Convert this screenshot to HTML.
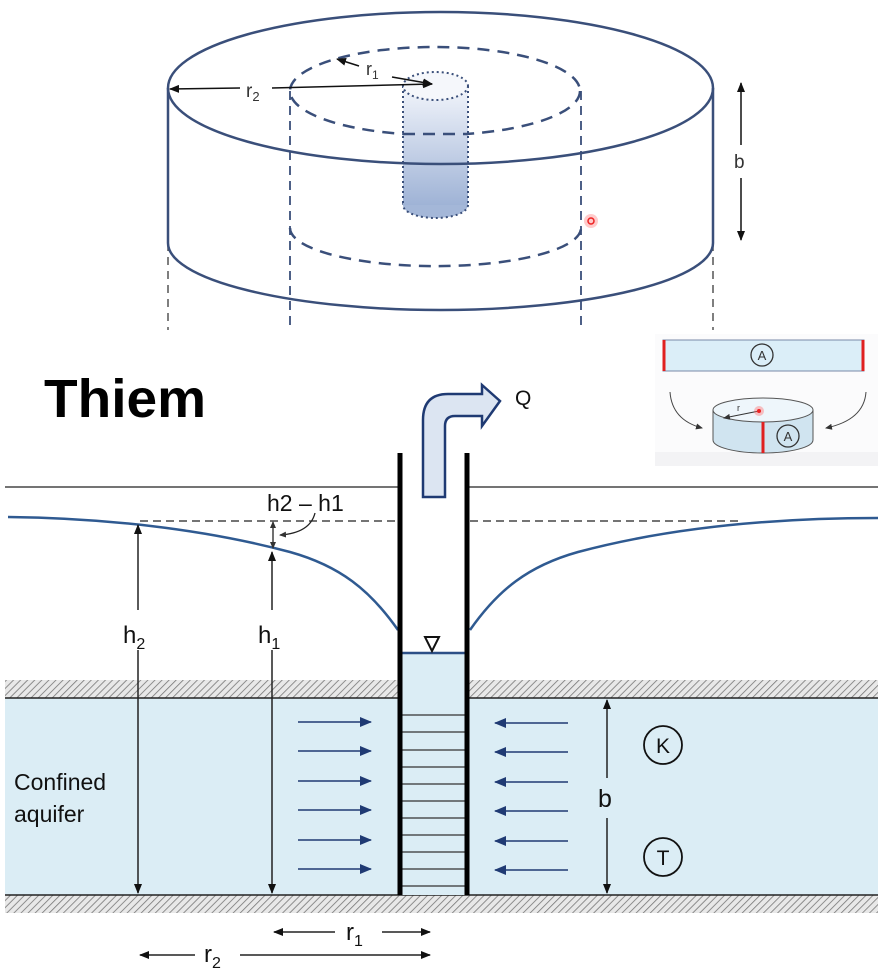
<!DOCTYPE html>
<html><head><meta charset="utf-8"><style>
html,body{margin:0;padding:0;background:#fff;}
svg{display:block;font-family:"Liberation Sans","DejaVu Sans",sans-serif;}
</style></head><body>
<svg width="878" height="970" viewBox="0 0 878 970" xmlns="http://www.w3.org/2000/svg">
<defs>
<pattern id="hatch" width="5" height="5" patternUnits="userSpaceOnUse" patternTransform="rotate(45)">
<rect width="5" height="5" fill="#e8e8e8"/><line x1="0" y1="0" x2="0" y2="5" stroke="#777" stroke-width="1.6"/>
</pattern>
<linearGradient id="wg" x1="0" y1="0" x2="0" y2="1">
<stop offset="0" stop-color="#f2f5fb"/><stop offset="1" stop-color="#9fb3d6"/>
</linearGradient>
<marker id="ah" markerWidth="10" markerHeight="8" refX="9" refY="4" orient="auto" markerUnits="userSpaceOnUse">
<path d="M0,0 L10,4 L0,8 z" fill="#111"/></marker>
<marker id="ahb" markerWidth="12" markerHeight="10" refX="11" refY="5" orient="auto" markerUnits="userSpaceOnUse">
<path d="M0,0 L12,5 L0,10 z" fill="#1f3a73"/></marker>
<marker id="ahs" markerWidth="7" markerHeight="6" refX="6" refY="3" orient="auto" markerUnits="userSpaceOnUse">
<path d="M0,0 L7,3 L0,6 z" fill="#333"/></marker>
</defs>

<!-- TOP CYLINDER -->
<g stroke="#3a4f7a" fill="none">
<line x1="168" y1="243" x2="168" y2="330" stroke="#555" stroke-dasharray="8,6" stroke-width="1.5"/>
<line x1="713" y1="243" x2="713" y2="330" stroke="#555" stroke-dasharray="8,6" stroke-width="1.5"/>
<line x1="290" y1="91" x2="290" y2="330" stroke="#3a4f7a" stroke-dasharray="9,6" stroke-width="1.8"/>
<line x1="581" y1="91" x2="581" y2="330" stroke="#3a4f7a" stroke-dasharray="9,6" stroke-width="1.8"/>
<ellipse cx="435" cy="91" rx="145" ry="44" stroke-dasharray="12,8" stroke-width="2.5"/>
<path d="M290,228 A145,38 0 0 0 581,228" stroke-dasharray="12,8" stroke-width="2.5"/>
<ellipse cx="435.5" cy="205" rx="32.5" ry="13" fill="#a4b7d8" stroke="#3a4f7a" stroke-dasharray="2,3" stroke-width="2"/>
<rect x="403" y="86" width="65" height="119" fill="url(#wg)" stroke="none"/>
<line x1="403" y1="86" x2="403" y2="205" stroke-dasharray="2,3" stroke-width="2"/>
<line x1="468" y1="86" x2="468" y2="205" stroke-dasharray="2,3" stroke-width="2"/>
<ellipse cx="435.5" cy="86" rx="32.5" ry="14" fill="#f5f7fb" stroke-dasharray="2,3" stroke-width="2"/>
<line x1="403" y1="134" x2="468" y2="134" stroke-dasharray="12,8" stroke-width="2.5"/>
<ellipse cx="440.5" cy="88" rx="272.5" ry="76" stroke-width="2.5"/>
<line x1="168" y1="88" x2="168" y2="243" stroke-width="2.5"/>
<line x1="713" y1="88" x2="713" y2="243" stroke-width="2.5"/>
<path d="M168,243 A272.5,67 0 0 0 713,243" stroke-width="2.5"/>
</g>
<line x1="240" y1="88" x2="170" y2="89" stroke="#111" stroke-width="1.5" marker-end="url(#ah)"/>
<line x1="272" y1="88" x2="432" y2="84" stroke="#111" stroke-width="1.5" marker-end="url(#ah)"/>
<text x="246" y="97" font-size="19" fill="#333">r<tspan font-size="13" dy="4">2</tspan></text>
<line x1="359" y1="66" x2="337" y2="59" stroke="#111" stroke-width="1.5" marker-end="url(#ah)"/>
<line x1="392" y1="77" x2="432" y2="84" stroke="#111" stroke-width="1.5" marker-end="url(#ah)"/>
<text x="366" y="75" font-size="18" fill="#333">r<tspan font-size="12" dy="4">1</tspan></text>
<line x1="741" y1="145" x2="741" y2="83" stroke="#111" stroke-width="1.5" marker-end="url(#ah)"/>
<line x1="741" y1="178" x2="741" y2="240" stroke="#111" stroke-width="1.5" marker-end="url(#ah)"/>
<text x="734" y="168" font-size="19" fill="#333">b</text>
<circle cx="591" cy="221" r="7" fill="#ff6b6b" opacity="0.35"/>
<circle cx="591" cy="221" r="3" fill="none" stroke="#e22" stroke-width="1.5"/>

<!-- INSET -->
<rect x="655" y="334" width="223" height="132" fill="#fbfbfc"/>
<rect x="655" y="452" width="223" height="14" fill="#f3f3f5"/>
<rect x="663" y="340" width="201" height="31" fill="#dbeef8" stroke="#7a8aa8" stroke-width="1"/>
<line x1="664" y1="340" x2="664" y2="371" stroke="#e02020" stroke-width="3"/>
<line x1="863" y1="340" x2="863" y2="371" stroke="#e02020" stroke-width="3"/>
<circle cx="762" cy="355" r="11" fill="none" stroke="#333" stroke-width="1.3"/>
<text x="762" y="360" font-size="13" text-anchor="middle" fill="#333">A</text>
<path d="M713,410 L713,440 A50,13 0 0 0 813,440 L813,410 z" fill="#d0e4f0" stroke="#555" stroke-width="1"/>
<ellipse cx="763" cy="410" rx="50" ry="12" fill="#eef6fb" stroke="#555" stroke-width="1"/>
<line x1="763" y1="422" x2="763" y2="453" stroke="#e02020" stroke-width="3"/>
<circle cx="788" cy="436" r="11" fill="none" stroke="#333" stroke-width="1.3"/>
<text x="788" y="441" font-size="13" text-anchor="middle" fill="#333">A</text>
<line x1="759" y1="411" x2="724" y2="418" stroke="#333" stroke-width="1" marker-end="url(#ahs)"/>
<text x="737" y="411" font-size="9" fill="#333">r</text>
<circle cx="759" cy="411" r="5" fill="#ff6b6b" opacity="0.4"/>
<circle cx="759" cy="411" r="2" fill="#e22"/>
<path d="M670,392 Q672,420 702,428" fill="none" stroke="#444" stroke-width="1" marker-end="url(#ahs)"/>
<path d="M866,392 Q864,420 826,428" fill="none" stroke="#444" stroke-width="1" marker-end="url(#ahs)"/>

<!-- THIEM -->
<text x="44" y="417" font-size="54" font-weight="bold" fill="#000" textLength="162" lengthAdjust="spacingAndGlyphs">Thiem</text>

<!-- layers -->
<rect x="5" y="680" width="873" height="18" fill="url(#hatch)"/>
<rect x="5" y="895" width="873" height="18" fill="url(#hatch)"/>
<rect x="5" y="698" width="873" height="197" fill="#dbedf5"/>
<line x1="5" y1="698" x2="878" y2="698" stroke="#222" stroke-width="1.5"/>
<line x1="5" y1="895" x2="878" y2="895" stroke="#222" stroke-width="1.5"/>
<rect x="398" y="653" width="69" height="242" fill="#dbedf5"/>
<g stroke="#333" stroke-width="1.3">
<line x1="400" y1="715" x2="467" y2="715"/><line x1="400" y1="732" x2="467" y2="732"/>
<line x1="400" y1="750" x2="467" y2="750"/><line x1="400" y1="767" x2="467" y2="767"/>
<line x1="400" y1="784" x2="467" y2="784"/><line x1="400" y1="801" x2="467" y2="801"/>
<line x1="400" y1="818" x2="467" y2="818"/><line x1="400" y1="835" x2="467" y2="835"/>
<line x1="400" y1="852" x2="467" y2="852"/><line x1="400" y1="869" x2="467" y2="869"/>
<line x1="400" y1="886" x2="467" y2="886"/>
</g>
<line x1="400" y1="653" x2="467" y2="653" stroke="#2c4f86" stroke-width="2.5"/>
<path d="M425,637 L439,637 L432,651 z" fill="#fff" stroke="#111" stroke-width="2"/>

<line x1="5" y1="487" x2="400" y2="487" stroke="#222" stroke-width="1.3"/>
<line x1="467" y1="487" x2="878" y2="487" stroke="#222" stroke-width="1.3"/>
<line x1="140" y1="521" x2="398" y2="521" stroke="#222" stroke-width="1.3" stroke-dasharray="8,5"/>
<line x1="470" y1="521" x2="740" y2="521" stroke="#222" stroke-width="1.3" stroke-dasharray="8,5"/>
<path d="M8,517 C100,518 200,528 290,552 C340,566 370,590 398,630" fill="none" stroke="#2f5a91" stroke-width="2.5"/>
<path d="M470,630 C498,590 528,566 578,552 C668,528 768,518 878,518" fill="none" stroke="#2f5a91" stroke-width="2.5"/>

<line x1="400" y1="453" x2="400" y2="895" stroke="#000" stroke-width="5"/>
<line x1="467" y1="453" x2="467" y2="895" stroke="#000" stroke-width="5"/>

<!-- Q pipe -->
<path d="M423,497 L445,497 L445,426 Q445,416 455,416 L482,416 L482,426 L500,401 L482,385 L482,394 L448,394 Q423,394 423,420 z" fill="#dce5f2" stroke="#1f3a73" stroke-width="2.5" stroke-linejoin="miter"/>
<text x="515" y="405" font-size="21" fill="#111">Q</text>

<!-- h arrows -->
<line x1="138" y1="610" x2="138" y2="525" stroke="#222" stroke-width="1.5" marker-end="url(#ah)"/>
<line x1="138" y1="650" x2="138" y2="893" stroke="#222" stroke-width="1.5" marker-end="url(#ah)"/>
<text x="123" y="643" font-size="24" fill="#111">h<tspan font-size="16" dy="6">2</tspan></text>
<line x1="272" y1="610" x2="272" y2="552" stroke="#222" stroke-width="1.5" marker-end="url(#ah)"/>
<line x1="272" y1="650" x2="272" y2="893" stroke="#222" stroke-width="1.5" marker-end="url(#ah)"/>
<text x="258" y="643" font-size="24" fill="#111">h<tspan font-size="16" dy="6">1</tspan></text>
<line x1="273" y1="535" x2="273" y2="522" stroke="#222" stroke-width="1.3" marker-end="url(#ahs)"/>
<line x1="273" y1="535" x2="273" y2="548" stroke="#222" stroke-width="1.3" marker-end="url(#ahs)"/>
<path d="M315,513 Q310,533 280,535" fill="none" stroke="#222" stroke-width="1.3" marker-end="url(#ahs)"/>
<text x="267" y="511" font-size="23" fill="#111">h2 – h1</text>

<text x="14" y="790" font-size="23" fill="#111">Confined</text>
<text x="14" y="822" font-size="23" fill="#111">aquifer</text>

<!-- flow arrows -->
<g stroke="#1f3a73" stroke-width="1.5">
<line x1="298" y1="722" x2="371" y2="722" marker-end="url(#ahb)"/>
<line x1="298" y1="751" x2="371" y2="751" marker-end="url(#ahb)"/>
<line x1="298" y1="781" x2="371" y2="781" marker-end="url(#ahb)"/>
<line x1="298" y1="810" x2="371" y2="810" marker-end="url(#ahb)"/>
<line x1="298" y1="840" x2="371" y2="840" marker-end="url(#ahb)"/>
<line x1="298" y1="869" x2="371" y2="869" marker-end="url(#ahb)"/>
<line x1="568" y1="723" x2="495" y2="723" marker-end="url(#ahb)"/>
<line x1="568" y1="752" x2="495" y2="752" marker-end="url(#ahb)"/>
<line x1="568" y1="782" x2="495" y2="782" marker-end="url(#ahb)"/>
<line x1="568" y1="811" x2="495" y2="811" marker-end="url(#ahb)"/>
<line x1="568" y1="841" x2="495" y2="841" marker-end="url(#ahb)"/>
<line x1="568" y1="870" x2="495" y2="870" marker-end="url(#ahb)"/>
</g>

<line x1="607" y1="778" x2="607" y2="700" stroke="#222" stroke-width="1.5" marker-end="url(#ah)"/>
<line x1="607" y1="818" x2="607" y2="893" stroke="#222" stroke-width="1.5" marker-end="url(#ah)"/>
<text x="598" y="807" font-size="25" fill="#111">b</text>
<circle cx="663" cy="745" r="19" fill="none" stroke="#111" stroke-width="1.8"/>
<text x="663" y="753" font-size="21" text-anchor="middle" fill="#111">K</text>
<circle cx="663" cy="857" r="19" fill="none" stroke="#111" stroke-width="1.8"/>
<text x="663" y="865" font-size="21" text-anchor="middle" fill="#111">T</text>

<!-- r arrows -->
<line x1="335" y1="932" x2="274" y2="932" stroke="#222" stroke-width="1.5" marker-end="url(#ah)"/>
<line x1="382" y1="932" x2="430" y2="932" stroke="#222" stroke-width="1.5" marker-end="url(#ah)"/>
<text x="346" y="940" font-size="24" fill="#111">r<tspan font-size="16" dy="6">1</tspan></text>
<line x1="195" y1="955" x2="140" y2="955" stroke="#222" stroke-width="1.5" marker-end="url(#ah)"/>
<line x1="240" y1="955" x2="430" y2="955" stroke="#222" stroke-width="1.5" marker-end="url(#ah)"/>
<text x="204" y="962" font-size="24" fill="#111">r<tspan font-size="16" dy="6">2</tspan></text>
</svg>
</body></html>
